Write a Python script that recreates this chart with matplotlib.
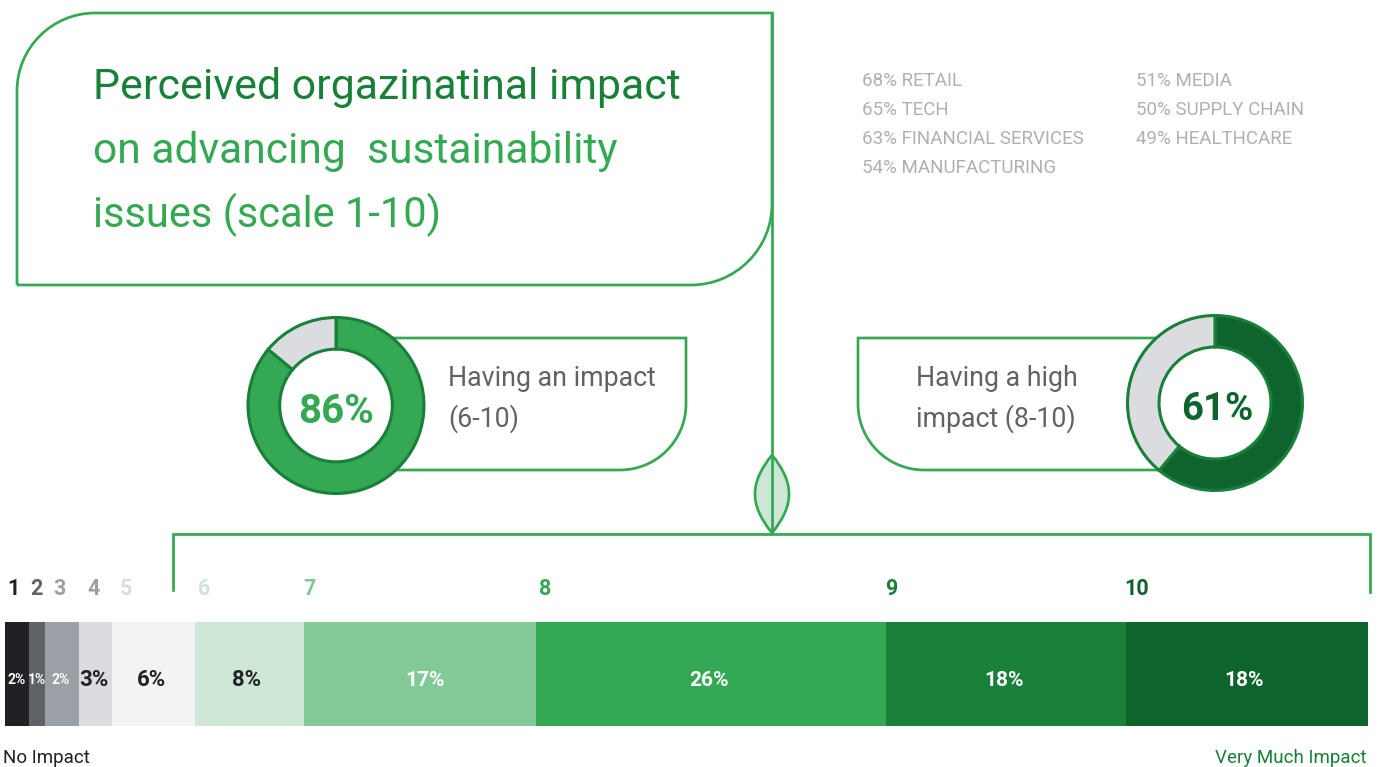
import matplotlib
matplotlib.use('Agg')
import matplotlib.pyplot as plt
from matplotlib.path import Path
from matplotlib.patches import PathPatch

W, H = 1378, 767
FONT = 'Roboto'
plt.rcParams['font.family'] = [FONT, 'DejaVu Sans']

# data
scale_names = ['1', '2', '3', '4', '5', '6', '7', '8', '9', '10']
segment_widths = [1.76, 1.17, 2.49, 2.42, 6.09, 8.0, 17.02, 25.68, 17.61, 17.76]
segment_labels = ['2%', '1%', '2%', '3%', '6%', '8%', '17%', '26%', '18%', '18%']
segment_colors = ['#202124', '#5f6368', '#9aa0a6', '#dadce0', '#f1f3f4',
                  '#cee6d6', '#81c995', '#34a853', '#188038', '#0d652d']
name_colors = ['#202124', '#5f6368', '#9aa0a6', '#9aa0a6', '#dadce0',
               '#cee6d6', '#81c995', '#34a853', '#188038', '#0d652d']
label_colors = ['white', 'white', 'white', '#202124', '#202124',
                '#202124', 'white', 'white', 'white', 'white']
sectors_left = ['68% RETAIL', '65% TECH', '63% FINANCIAL SERVICES', '54% MANUFACTURING']
sectors_right = ['51% MEDIA', '50% SUPPLY CHAIN', '49% HEALTHCARE']
impact_some = [86, 14]
impact_high = [61, 39]

# layout, in pixels
name_x = [13, 36, 60, 94, 126, 204, 310, 545, 891, 1137]
label_x = [17, 37, 61, 94, 151, 247, 425, 709, 1004, 1244]
GREEN = '#34a853'
K = 0.5523
LW = 1.95


def px_axes(x0, y0, x1, y1, **kw):
    return fig.add_axes([x0 / W, 1 - y1 / H, (x1 - x0) / W, (y1 - y0) / H], **kw)


def outline(ax, pts, fc='none', z=2):
    # pts: first point, then ('L', p) or ('C', c1, c2, p)
    verts, codes = [pts[0]], [Path.MOVETO]
    for p in pts[1:]:
        if p[0] == 'L':
            verts.append(p[1])
            codes.append(Path.LINETO)
        else:
            verts += [p[1], p[2], p[3]]
            codes += [Path.CURVE4] * 3
    ax.add_patch(PathPatch(Path(verts, codes), fc=fc, ec=GREEN, lw=LW, zorder=z,
                           joinstyle='miter', capstyle='butt'))


def donut(cx, cy, R, values, colors, label, color, size, tx):
    pad = 1.05
    ax = px_axes(cx - R * pad, cy - R * pad, cx + R * pad, cy + R * pad, zorder=3)
    ax.pie(values, colors=colors, startangle=90, counterclock=False, radius=1,
           wedgeprops=dict(width=0.36, edgecolor='#188038', linewidth=2.2))
    ax.set_xlim(-pad, pad)
    ax.set_ylim(-pad, pad)
    ax.axis('off')
    ax.text(tx, -0.07, label, color=color, fontsize=size, fontweight='bold',
            ha='center', va='center')


fig = plt.figure(figsize=(W / 100, H / 100), dpi=100, facecolor='white')

# page layer in pixel coordinates
page = px_axes(0, 0, W, H, zorder=1)
page.set_xlim(0, W)
page.set_ylim(H, 0)
page.axis('off')

# title box
r1, r2 = 78, 81
outline(page, [(17, 285), ('L', (691, 285)),
               ('C', (691 + K * r2, 285), (772, 204 + K * r2), (772, 204)),
               ('L', (772, 13)), ('L', (95, 13)),
               ('C', (95 - K * r1, 13), (17, 91 - K * r1), (17, 91)),
               ('L', (17, 285))])
page.text(93, 87, 'Perceived orgazinatinal impact', color='#188038', fontsize=30.9, va='center')
page.text(93, 151, 'on advancing  sustainability', color=GREEN, fontsize=30.7, va='center')
page.text(93, 215, 'issues (scale 1-10)', color=GREEN, fontsize=30, va='center')

# stem, leaf and bracket
page.plot([772, 772], [13, 533], color=GREEN, lw=LW, zorder=2)
outline(page, [(772, 455), ('C', (760, 470), (755, 482), (755, 494)),
               ('C', (755, 506), (760, 518), (772, 533)),
               ('C', (784, 518), (789, 506), (789, 494)),
               ('C', (789, 482), (784, 470), (772, 455))], fc='#cee6d6', z=2)
page.plot([772, 772], [455, 533], color=GREEN, lw=LW, zorder=3)
page.plot([173, 173, 1370, 1370], [590, 534, 534, 592], color=GREEN, lw=LW, zorder=2,
          solid_joinstyle='miter')

# sector lists
for i, s in enumerate(sectors_left):
    page.text(862, 81 + i * 29.1, s, color='#adb0b5', fontsize=13.5, va='center')
for i, s in enumerate(sectors_right):
    page.text(1136, 81 + i * 29.1, s, color='#adb0b5', fontsize=13.5, va='center')

# callouts behind the donuts
r3 = 66
outline(page, [(380, 338), ('L', (686, 338)), ('L', (686, 404)),
               ('C', (686, 404 + K * r3), (620 + K * r3, 470), (620, 470)),
               ('L', (380, 470))])
outline(page, [(1160, 338), ('L', (858, 338)), ('L', (858, 404)),
               ('C', (858, 404 + K * r3), (924 - K * r3, 470), (924, 470)),
               ('L', (1170, 470))])
page.text(448, 379, 'Having an impact', color='#5f6368', fontsize=19.3, va='center')
page.text(448, 419, '(6-10)', color='#5f6368', fontsize=19.3, va='center')
page.text(916, 379, 'Having a high', color='#5f6368', fontsize=19.3, va='center')
page.text(916, 419, 'impact (8-10)', color='#5f6368', fontsize=19.3, va='center')

donut(336, 405.5, 88, impact_some, [GREEN, '#dadce0'], '86%', GREEN, 29, 0)
donut(1215, 403, 87.5, impact_high, ['#0d652d', '#dadce0'], '61%', '#0d652d', 27.5, 0.03)

# stacked bar
bar = px_axes(5, 622, 1368, 726, zorder=2)
left = 0
for w, c in zip(segment_widths, segment_colors):
    bar.barh(0, w, left=left, height=1, color=c, linewidth=0)
    left += w
bar.set_xlim(0, left)
bar.set_ylim(-0.5, 0.5)
bar.axis('off')

for i, name in enumerate(scale_names):
    page.text(name_x[i], 589, name, color=name_colors[i], fontsize=15.5, fontweight='bold',
              ha='center', va='center')

# labels go on a top layer so they sit over the bar
top = px_axes(0, 0, W, H, zorder=4)
top.set_xlim(0, W)
top.set_ylim(H, 0)
top.axis('off')
for i, lab in enumerate(segment_labels):
    small = i < 3
    size = 10 if small else (16 if i < 6 else 15)
    top.text(label_x[i], 680, lab, color=label_colors[i], fontweight='bold',
             fontsize=size, ha='center', va='center')

top.text(3, 758, 'No Impact', color='#202124', fontsize=13.5, va='center')
top.text(1367, 758, 'Very Much Impact', color='#188038', fontsize=13.5, ha='right', va='center')

fig.savefig('out.png', dpi=100)
